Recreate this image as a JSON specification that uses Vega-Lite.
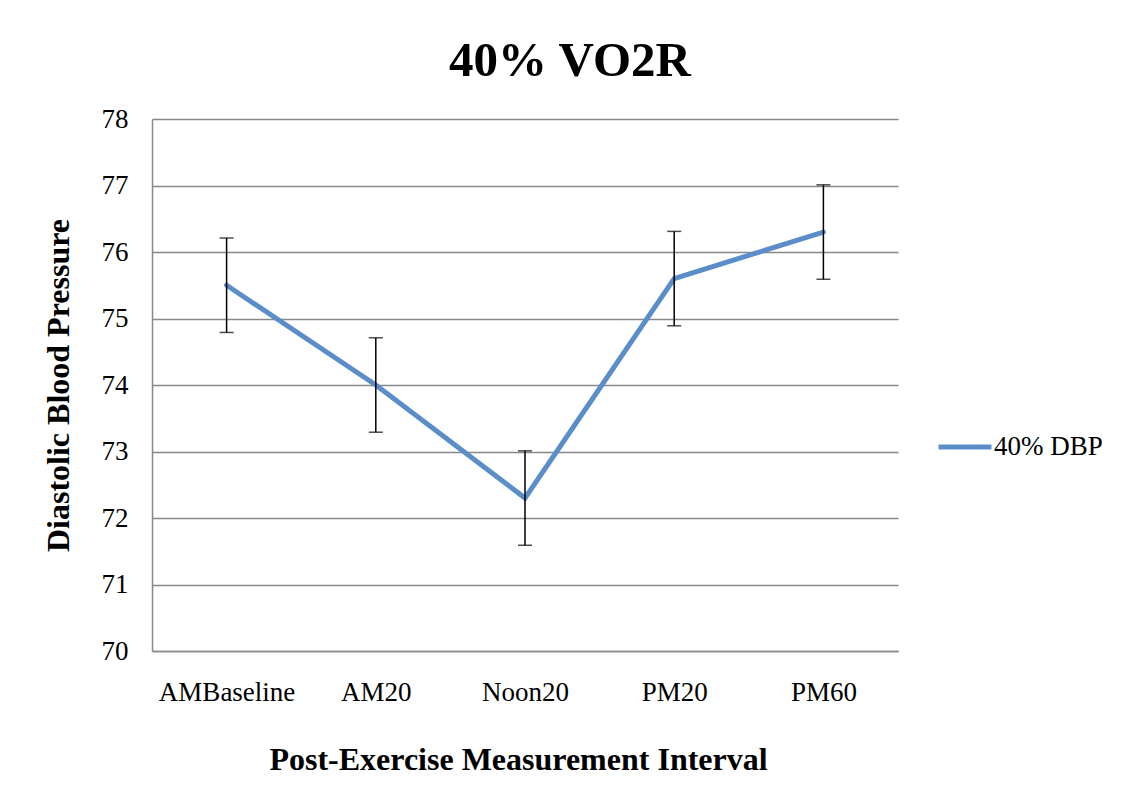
{
  "$schema": "https://vega.github.io/schema/vega-lite/v6.json",
  "autosize": "none",
  "width": 746,
  "height": 532,
  "padding": {"left": 152, "top": 119, "right": 226, "bottom": 143},
  "background": "white",
  "title": {
    "text": "40% VO2R",
    "font": "Liberation Serif",
    "fontSize": 49,
    "fontWeight": "bold",
    "color": "black",
    "anchor": "middle",
    "dx": 45,
    "offset": 19
  },
  "data": {
    "values": [
      {"interval": "AMBaseline", "dbp": 75.5, "lower": 74.79, "upper": 76.21, "series": "40% DBP"},
      {"interval": "AM20", "dbp": 74.0, "lower": 73.29, "upper": 74.71, "series": "40% DBP"},
      {"interval": "Noon20", "dbp": 72.3, "lower": 71.59, "upper": 73.01, "series": "40% DBP"},
      {"interval": "PM20", "dbp": 75.6, "lower": 74.89, "upper": 76.31, "series": "40% DBP"},
      {"interval": "PM60", "dbp": 76.3, "lower": 75.59, "upper": 77.01, "series": "40% DBP"}
    ]
  },
  "encoding": {
    "x": {
      "field": "interval",
      "type": "nominal",
      "sort": ["AMBaseline", "AM20", "Noon20", "PM20", "PM60"],
      "scale": {"type": "point", "padding": 0.5},
      "axis": {
        "title": "Post-Exercise Measurement Interval",
        "labelAngle": 0,
        "labelFont": "Liberation Serif",
        "labelFontSize": 27,
        "labelColor": "black",
        "labelPadding": 28,
        "ticks": false,
        "domainColor": "#888888",
        "domainWidth": 1.5,
        "grid": false,
        "titleFont": "Liberation Serif",
        "titleFontSize": 32,
        "titleFontWeight": "bold",
        "titleColor": "black",
        "titlePadding": 39,
        "titleX": 366
      }
    }
  },
  "layer": [
    {
      "mark": {"type": "line", "strokeWidth": 5, "strokeCap": "round"},
      "encoding": {
        "y": {
          "field": "dbp",
          "type": "quantitative",
          "scale": {"domain": [70, 78], "nice": false, "zero": false},
          "axis": {
            "title": "Diastolic Blood Pressure",
            "values": [70, 71, 72, 73, 74, 75, 76, 77, 78],
            "format": "d",
            "labelFont": "Liberation Serif",
            "labelFontSize": 27,
            "labelColor": "black",
            "labelPadding": 24,
            "ticks": false,
            "domainColor": "#888888",
            "domainWidth": 1.5,
            "gridColor": "#888888",
            "gridWidth": 1.5,
            "titleFont": "Liberation Serif",
            "titleFontSize": 32,
            "titleFontWeight": "bold",
            "titleColor": "black",
            "titlePadding": 26
          }
        },
        "color": {
          "field": "series",
          "type": "nominal",
          "scale": {"range": ["#5B8DC8"]},
          "legend": {
            "title": null,
            "orient": "none",
            "legendX": 784,
            "legendY": 299,
            "symbolType": "stroke",
            "symbolSize": 2800,
            "symbolStrokeWidth": 5,
            "labelFont": "Liberation Serif",
            "labelFontSize": 27,
            "labelColor": "black",
            "labelOffset": 0
          }
        }
      }
    },
    {
      "mark": {"type": "rule", "color": "black", "strokeWidth": 1.5},
      "encoding": {
        "y": {"field": "lower", "type": "quantitative"},
        "y2": {"field": "upper"}
      }
    },
    {
      "mark": {"type": "tick", "orient": "horizontal", "color": "black", "thickness": 1.5, "size": 14},
      "encoding": {"y": {"field": "lower", "type": "quantitative"}}
    },
    {
      "mark": {"type": "tick", "orient": "horizontal", "color": "black", "thickness": 1.5, "size": 14},
      "encoding": {"y": {"field": "upper", "type": "quantitative"}}
    }
  ],
  "config": {"view": {"stroke": null}}
}
